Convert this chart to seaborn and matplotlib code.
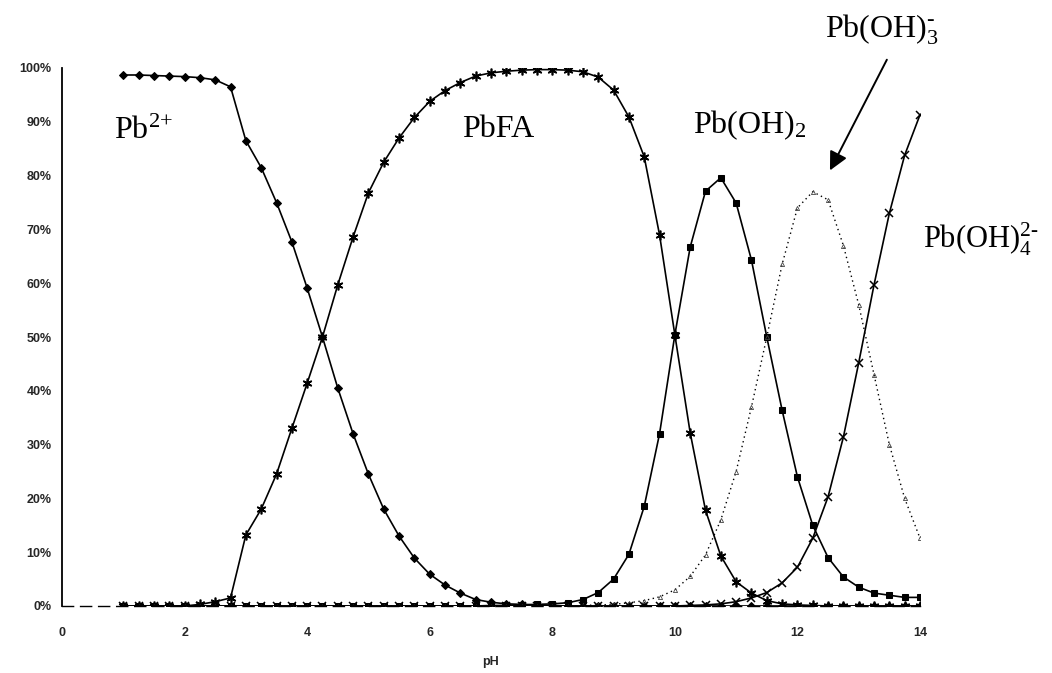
import numpy as np
import pandas as pd
import matplotlib
matplotlib.use("Agg")
import matplotlib.pyplot as plt
import seaborn as sns

# ---------------- data ----------------
ph = [1.0, 1.25, 1.5, 1.75, 2.0, 2.25, 2.5, 2.75, 3.0, 3.25, 3.5, 3.75, 4.0, 4.25,
      4.5, 4.75, 5.0, 5.25, 5.5, 5.75, 6.0, 6.25, 6.5, 6.75, 7.0, 7.25, 7.5, 7.75,
      8.0, 8.25, 8.5, 8.75, 9.0, 9.25, 9.5, 9.75, 10.0, 10.25, 10.5, 10.75, 11.0,
      11.25, 11.5, 11.75, 12.0, 12.25, 12.5, 12.75, 13.0, 13.25, 13.5, 13.75, 14.0]

pb2 = [98.7, 98.7, 98.6, 98.5, 98.4, 98.2, 97.8, 96.5, 86.5, 81.5, 75.0, 67.7, 59.1, 50.0,
       40.5, 32.0, 24.5, 18.0, 13.0, 8.9, 5.9, 3.9, 2.4, 1.2, 0.7, 0.4, 0.3, 0.2,
       0.1, 0, 0, 0, 0, 0, 0, 0, 0, 0, 0, 0, 0,
       0, 0, 0, 0, 0, 0, 0, 0, 0, 0, 0, 0]

pbfa = [0, 0, 0, 0, 0, 0.3, 0.8, 1.5, 13.2, 18.0, 24.5, 33.0, 41.4, 50.0,
        59.7, 68.6, 76.8, 82.5, 87.0, 90.8, 93.8, 95.8, 97.3, 98.5, 99.1, 99.4, 99.6, 99.7,
        99.7, 99.6, 99.3, 98.3, 95.9, 90.9, 83.5, 69.0, 50.4, 32.2, 17.8, 9.3, 4.5,
        2.4, 1.0, 0.4, 0.2, 0.1, 0, 0, 0, 0, 0, 0, 0]

pboh2 = [0, 0, 0, 0, 0, 0, 0, 0, 0, 0, 0, 0, 0, 0,
         0, 0, 0, 0, 0, 0, 0, 0, 0, 0, 0.1, 0.1, 0.2, 0.3,
         0.4, 0.6, 1.2, 2.5, 5.0, 9.6, 18.5, 32.0, 50.4, 66.7, 77.1, 79.6, 74.9,
         64.3, 50.0, 36.4, 24.0, 15.0, 9.0, 5.4, 3.5, 2.4, 2.0, 1.6, 1.6]

pboh3 = [0, 0, 0, 0, 0, 0, 0, 0, 0, 0, 0, 0, 0, 0,
         0, 0, 0, 0, 0, 0, 0, 0, 0, 0, 0, 0, 0, 0,
         0, 0, 0.1, 0.2, 0.3, 0.6, 1.0, 1.7, 3.0, 5.5, 9.5, 16.0, 25.0,
         37.0, 50.0, 63.5, 74.0, 77.0, 75.5, 67.0, 56.0, 43.0, 30.0, 20.0, 12.6]

pboh4 = [0, 0, 0, 0, 0, 0, 0, 0, 0, 0, 0, 0, 0, 0,
         0, 0, 0, 0, 0, 0, 0, 0, 0, 0, 0, 0, 0, 0,
         0, 0, 0, 0, 0, 0, 0, 0, 0, 0.1, 0.2, 0.4, 0.8,
         1.5, 2.5, 4.3, 7.2, 12.6, 20.3, 31.4, 45.2, 59.7, 73.0, 83.8, 91.3]

x_ticks = [0, 2, 4, 6, 8, 10, 12, 14]
y_ticks = [0, 10, 20, 30, 40, 50, 60, 70, 80, 90, 100]
y_tick_labels = [f"{v}%" for v in y_ticks]
x_label = "pH"

labels = {
    "pb2": r"Pb$^{\text{2+}}$",
    "pbfa": "PbFA",
    "pboh2": r"Pb(OH)$_{2}$",
    "pboh3": r"Pb(OH)$_{3}^{\text{-}}$",
    "pboh4": r"Pb(OH)$_{4}^{\text{2-}}$",
}

# ---------------- style ----------------
sns.set_style("white")
plt.rcParams["font.family"] = ["Liberation Sans", "DejaVu Sans"]
plt.rcParams["mathtext.fontset"] = "custom"
plt.rcParams["mathtext.rm"] = "Liberation Serif"
plt.rcParams["mathtext.default"] = "rm"

fig = plt.figure(figsize=(10.52, 6.73), dpi=100)
ax = fig.add_axes([62 / 1052, 67 / 673, (920 - 62) / 1052, (606 - 68) / 673])

series = [
    (pb2, dict(marker="D", markersize=4.5, linestyle="-", linewidth=1.2,
               markerfacecolor="black", markeredgecolor="black")),
    (pbfa, dict(marker=(6, 2, 0), markersize=7, linestyle="-", linewidth=1.2,
                markeredgewidth=1.2, markeredgecolor="black")),
    (pboh2, dict(marker="s", markersize=5, linestyle="-", linewidth=1.2,
                 markerfacecolor="black", markeredgecolor="black")),
    (pboh3, dict(marker="^", markersize=3, linestyle=(0, (1, 2.5)), linewidth=1.0,
                 markerfacecolor="none", markeredgecolor="#444444", markeredgewidth=0.6)),
    (pboh4, dict(marker="x", markersize=6, linestyle="-", linewidth=1.2,
                 markeredgewidth=1.1, markeredgecolor="black")),
]
for vals, kw in series:
    sns.lineplot(x=ph, y=vals, ax=ax, color="black", sort=False, legend=False, **kw)

ax.set_xlim(0, 14)
ax.set_ylim(0, 100)
ax.set_xticks(x_ticks)
ax.set_xticklabels([str(v) for v in x_ticks], fontsize=9, fontweight="bold")
ax.set_yticks(y_ticks)
ax.set_yticklabels(y_tick_labels, fontsize=9, fontweight="bold")
ax.tick_params(axis="x", length=0, pad=15)
ax.tick_params(axis="y", length=5, width=1, direction="inout", pad=5, color="black")
ax.set_xlabel(x_label, fontsize=9, fontweight="bold", labelpad=12)
ax.set_ylabel("")

for side in ("top", "right"):
    ax.spines[side].set_visible(False)
ax.spines["left"].set_color("black")
ax.spines["left"].set_linewidth(1.3)
ax.spines["bottom"].set_color("black")
ax.spines["bottom"].set_linewidth(1.0)
ax.spines["bottom"].set_linestyle((0, (8, 5)))
ax.grid(False)

tk = dict(fontsize=23, color="black", va="baseline", ha="left", clip_on=False,
          family="Liberation Serif")
ax.text(0.85, 86.8, labels["pb2"], **tk)
ax.text(6.52, 87.2, labels["pbfa"], **tk)
ax.text(10.3, 87.9, labels["pboh2"], **tk)
ax.text(12.45, 105.6, labels["pboh3"], **tk)
tk4 = dict(tk, fontsize=22)
ax.text(14.05, 66.4, labels["pboh4"], **tk4)

ax.annotate("", xy=(12.51, 80.5), xytext=(13.48, 102.0),
            arrowprops=dict(arrowstyle="-|>", mutation_scale=28, color="black", lw=1.4),
            annotation_clip=False)

fig.savefig("out.png", dpi=100, facecolor="white")
